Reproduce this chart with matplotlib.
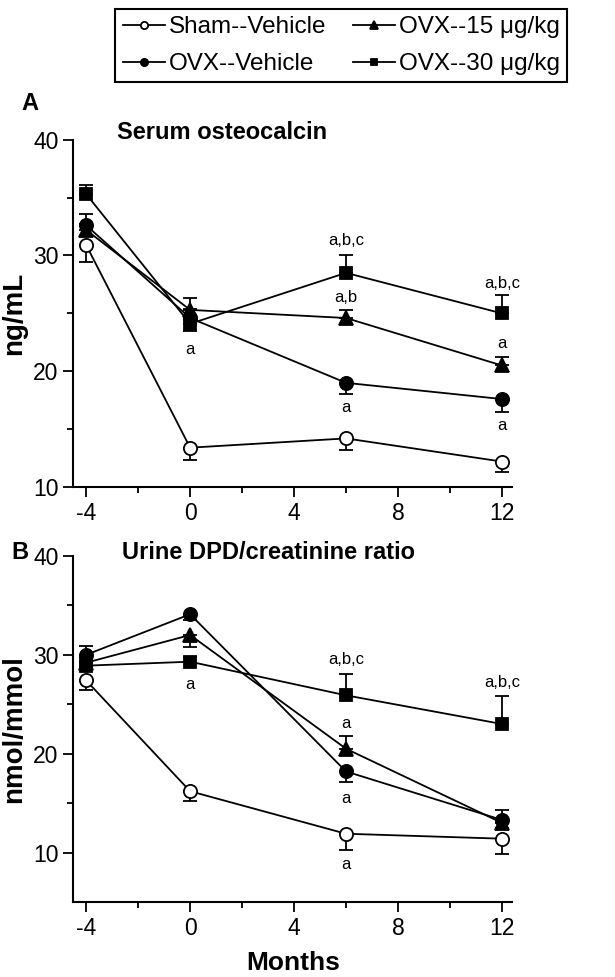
import numpy as np
import matplotlib
matplotlib.use('Agg')
import matplotlib.pyplot as plt

plt.rcParams['font.family'] = ['Liberation Sans', 'DejaVu Sans']
plt.rcParams['axes.unicode_minus'] = False

months = [-4, 0, 6, 12]
labels = ['Sham--Vehicle', 'OVX--Vehicle', 'OVX--15 \u03bcg/kg', 'OVX--30 \u03bcg/kg']

# Panel A: serum osteocalcin (ng/mL)
osteo_sham = [30.9, 13.4, 14.2, 12.2]
osteo_ovx = [32.6, 24.6, 19.0, 17.6]
osteo_15 = [32.2, 25.3, 24.6, 20.5]
osteo_30 = [35.3, 24.1, 28.5, 25.0]
osteo_sham_err = [-1.5, -1.1, -1.0, -0.9]   # sign = direction of the bar
osteo_ovx_err = [1.0, 0.8, -1.0, -1.1]
osteo_15_err = [0.5, 1.0, 0.7, 0.7]
osteo_30_err = [0.8, -0.6, 1.5, 1.6]

# Panel B: urine DPD/creatinine (nmol/mmol)
dpd_sham = [27.4, 16.2, 11.9, 11.4]
dpd_ovx = [30.0, 34.1, 18.2, 13.3]
dpd_15 = [29.2, 32.0, 20.5, 13.0]
dpd_30 = [28.9, 29.3, 25.9, 23.0]
dpd_sham_err = [-1.0, -1.0, -1.6, -1.5]
dpd_ovx_err = [0.9, -0.6, -1.1, 1.0]
dpd_15_err = [0.5, -1.2, 1.3, -0.5]
dpd_30_err = [0.5, 0.5, 2.2, 2.8]

# significance letters: (month, y, text)
osteo_notes = [(0, 21.9, 'a'), (6, 31.3, 'a,b,c'), (6, 26.4, 'a,b'), (6, 16.9, 'a'),
               (12, 27.6, 'a,b,c'), (12, 22.4, 'a'), (12, 15.3, 'a')]
dpd_notes = [(0, 27.0, 'a'), (6, 29.5, 'a,b,c'), (6, 23.1, 'a'), (6, 15.5, 'a'),
             (6, 8.8, 'a'), (12, 27.2, 'a,b,c')]

styles = [dict(marker='o', mfc='white', mec='black', ms=9.5, zorder=6),
          dict(marker='o', mfc='black', mec='black', ms=9.5, zorder=5),
          dict(marker='^', mfc='black', mec='black', ms=9.5, zorder=4),
          dict(marker='s', mfc='black', mec='black', ms=9, zorder=3)]


def draw_panel(ax, series, errs, notes, ylim, title, title_pos, ylabel):
    handles = []
    for vals, err, st in zip(series, errs, styles):
        err = np.array(err)
        lower = np.where(err < 0, -err, 0)
        upper = np.where(err > 0, err, 0)
        ax.errorbar(months, vals, yerr=[lower, upper], fmt='none', ecolor='black',
                    elinewidth=1.3, capsize=5, capthick=1.3, zorder=st['zorder'] - 0.5)
        h, = ax.plot(months, vals, color='black', lw=1.3, mew=1.3, **st)
        handles.append(h)
    for x, y, t in notes:
        ax.text(x, y, t, ha='center', va='center', fontsize=12)
    ax.set_xlim(-4.5, 12.4)
    ax.set_ylim(*ylim)
    ax.set_xticks([-4, 0, 4, 8, 12])
    ax.set_xticks([-2, 2, 6, 10], minor=True)
    ax.set_yticks([10, 20, 30, 40])
    ax.set_yticks([15, 25, 35], minor=True)
    ax.tick_params(which='major', length=7, width=1.3, labelsize=16.5, direction='out')
    ax.tick_params(which='minor', length=4, width=1.3, direction='out')
    for s in ['top', 'right']:
        ax.spines[s].set_visible(False)
    for s in ['left', 'bottom']:
        ax.spines[s].set_linewidth(1.5)
    ax.set_ylabel(ylabel, fontsize=20, fontweight='bold')
    ax.yaxis.set_label_coords(-0.105, 0.5)
    ax.text(title_pos[0], title_pos[1], title, transform=ax.transAxes, fontsize=17,
            fontweight='bold', va='center', ha='left')
    return handles


fig = plt.figure(figsize=(6.15, 9.77), dpi=100)
axA = fig.add_axes([0.119, 0.5015, 0.714, 0.3555])
axB = fig.add_axes([0.119, 0.0768, 0.714, 0.3542])

hs = draw_panel(axA, [osteo_sham, osteo_ovx, osteo_15, osteo_30],
                [osteo_sham_err, osteo_ovx_err, osteo_15_err, osteo_30_err],
                osteo_notes, (10, 40), 'Serum osteocalcin', (0.1, 1.02), 'ng/mL')
draw_panel(axB, [dpd_sham, dpd_ovx, dpd_15, dpd_30],
           [dpd_sham_err, dpd_ovx_err, dpd_15_err, dpd_30_err],
           dpd_notes, (5, 40), 'Urine DPD/creatinine ratio', (0.112, 1.009), 'nmol/mmol')
axB.set_xlabel('Months', fontsize=19, fontweight='bold', labelpad=8)

fig.text(0.049, 0.894, 'A', fontsize=17, fontweight='bold', ha='center', va='center')
fig.text(0.032, 0.434, 'B', fontsize=17, fontweight='bold', ha='center', va='center')

leg = fig.legend(hs, labels, loc='upper center', bbox_to_anchor=(0.555, 0.991), ncol=2,
                 fontsize=17.5, handlelength=1.75, handletextpad=0.15, columnspacing=1.1,
                 fancybox=False, edgecolor='black', framealpha=1, borderpad=0.3,
                 borderaxespad=0, labelspacing=0.62, markerscale=0.55)
leg.get_frame().set_linewidth(1.5)

fig.savefig('out.png', dpi=100)
